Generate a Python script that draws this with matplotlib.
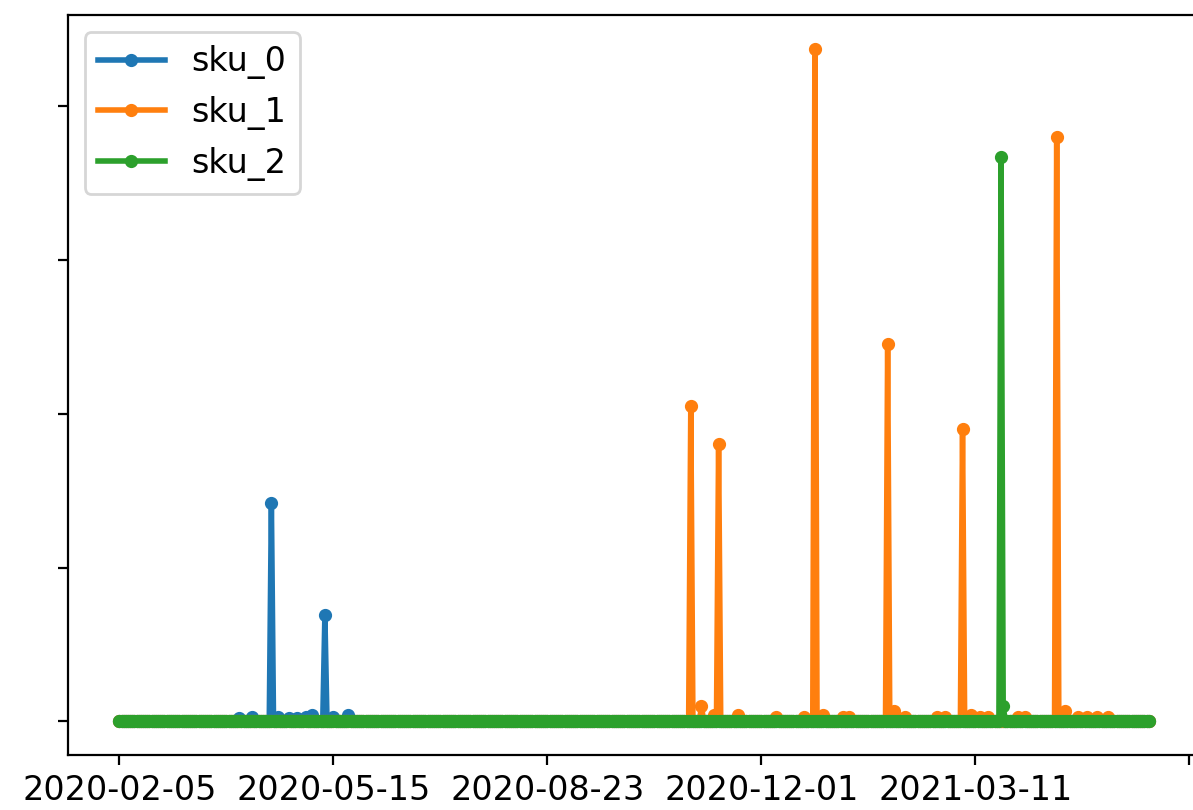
import numpy as np
import pandas as pd
import matplotlib
matplotlib.use("Agg")
import matplotlib.pyplot as plt
from matplotlib.ticker import MultipleLocator

# daily series, 2020-02-05 .. 2021-05-31, zero except on the days listed
start = "2020-02-05"
end = "2021-05-31"

sku_0_days = [56, 62, 71, 74, 79, 83, 87, 90, 96, 100, 107]
sku_0_vals = [0.02, 0.03, 1.42, 0.03, 0.02, 0.02, 0.03, 0.04, 0.69, 0.03, 0.04]

sku_1_days = [267, 272, 278, 280, 289, 307, 320, 325, 329, 338, 341,
              359, 362, 367, 382, 386, 394, 398, 402, 406, 420, 423,
              438, 442, 448, 452, 457, 462]
sku_1_vals = [2.05, 0.10, 0.04, 1.80, 0.04, 0.03, 0.03, 4.37, 0.04, 0.03, 0.03,
              2.45, 0.07, 0.03, 0.03, 0.03, 1.90, 0.04, 0.03, 0.03, 0.03, 0.03,
              3.80, 0.07, 0.03, 0.03, 0.03, 0.03]

sku_2_days = [412, 413]
sku_2_vals = [3.67, 0.10]

dates = pd.date_range(start, end, freq="D")


def make_series(days, vals):
    s = np.zeros(len(dates))
    s[days] = vals
    return s


df = pd.DataFrame({
    "sku_0": make_series(sku_0_days, sku_0_vals),
    "sku_1": make_series(sku_1_days, sku_1_vals),
    "sku_2": make_series(sku_2_days, sku_2_vals),
}, index=dates)

plt.rcParams["font.size"] = 12

fig = plt.figure(figsize=(11.93 / 2, 8.10 / 2), dpi=200)
ax = fig.add_axes([0.057, 0.0679, 0.949, 0.913])

for col in df.columns:
    ax.plot(df.index, df[col], marker=".", linewidth=2, markersize=7.5, label=col)

# ticks every 100 days from the first date; last label falls off the figure
ticks = pd.date_range(start, periods=6, freq="100D")
labels = [t.strftime("%Y-%m-%d") for t in ticks]
labels[-1] = ""
ax.set_xticks(ticks)
ax.set_xticklabels(labels)
ax.yaxis.set_major_locator(MultipleLocator(1))
ax.tick_params(axis="y", labelleft=False)
ax.legend(loc="upper left")

fig.savefig("out.png", dpi=200)
